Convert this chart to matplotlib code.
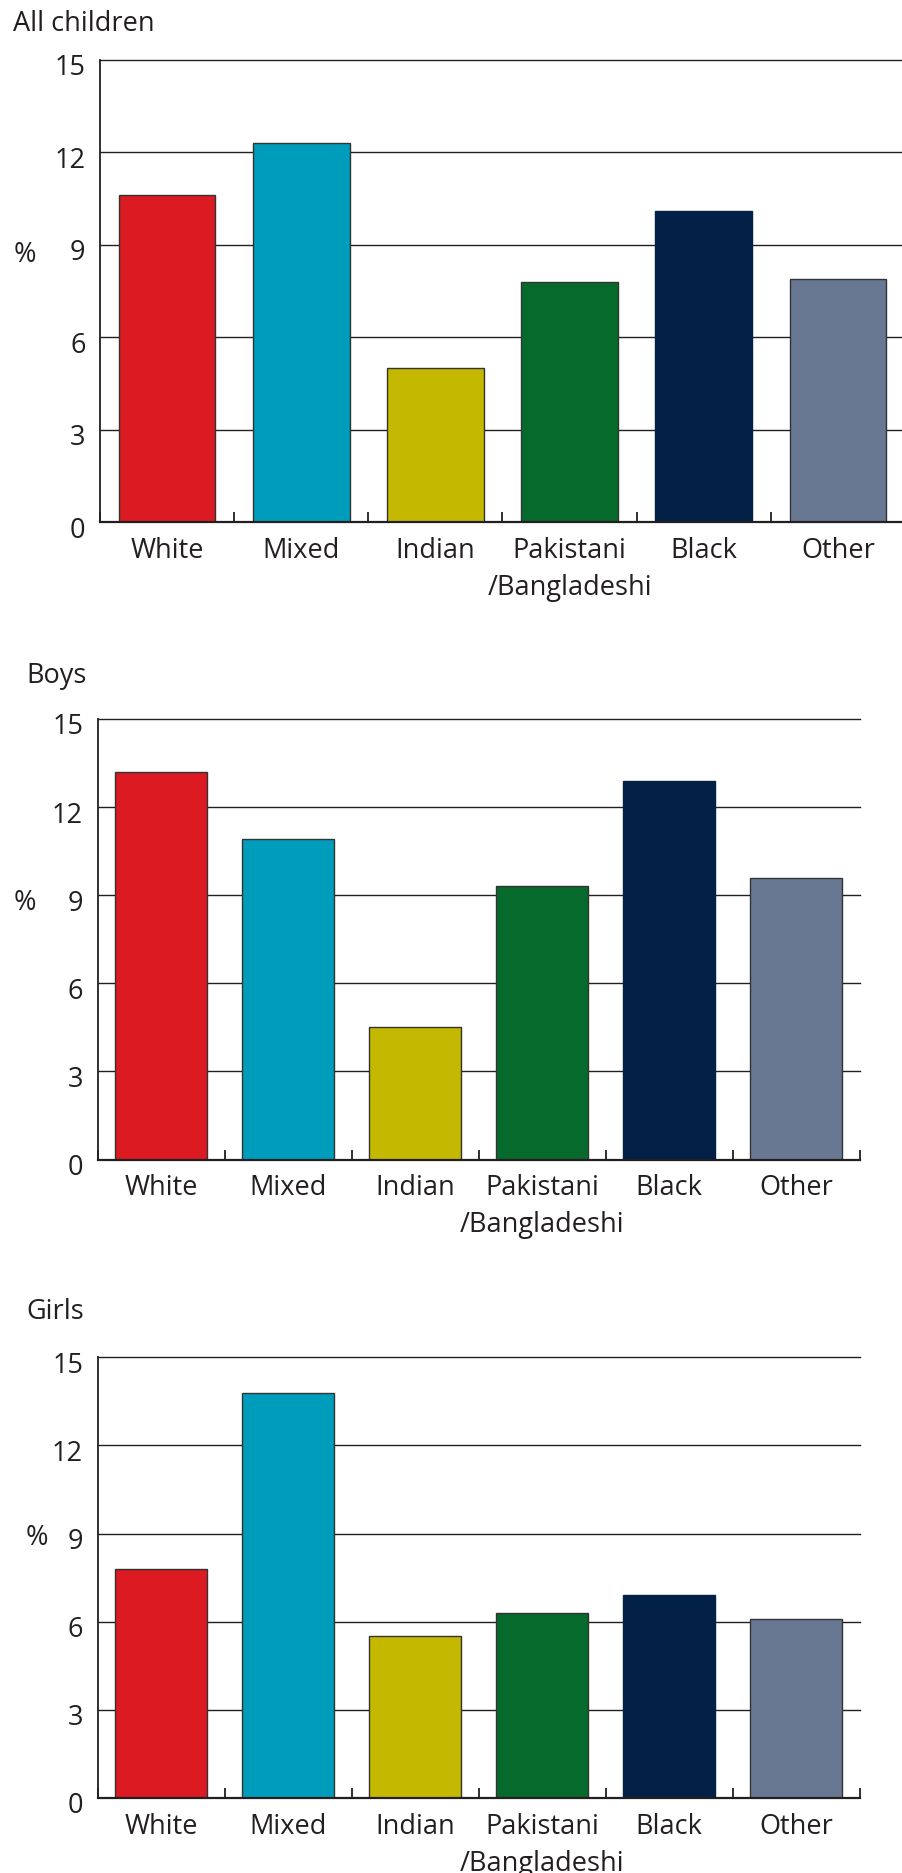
import matplotlib
matplotlib.use("Agg")
import matplotlib.pyplot as plt
from matplotlib.ticker import FixedLocator
from matplotlib.transforms import ScaledTranslation
import numpy as np

# Share of children (%) by ethnic group
categories = ["White", "Mixed", "Indian", "Pakistani\n/Bangladeshi", "Black", "Other"]
all_children = [10.6, 12.3, 5.0, 7.8, 10.1, 7.9]
boys = [13.2, 10.9, 4.5, 9.3, 12.9, 9.6]
girls = [7.8, 13.8, 5.5, 6.3, 6.9, 6.1]
panel_titles = ["All children", "Boys", "Girls"]
y_ticks = [0, 3, 6, 9, 12, 15]

bar_colors = ["#DC1A22", "#009CBB", "#C4B800", "#066A2C", "#032046", "#687893"]
TEXT = "#231F20"
EDGE = "#333333"

W, H, DPI = 903, 1874, 100
plt.rcParams["font.family"] = ["Open Sans", "DejaVu Sans"]
FS = 19.5

# panel geometry in pixels: axes box (left, top, right, bottom), title baseline, "%" centre
layout = [
    dict(box=(100, 60.7, 905, 523.3), title=(12.7, 30.7), pct=(24.7, 255.0)),
    dict(box=(97.7, 720.0, 859.7, 1160.5), title=(26.0, 682.7), pct=(24.7, 903.3)),
    dict(box=(97.7, 1358.3, 859.7, 1799.0), title=(26.0, 1319.3), pct=(37.2, 1537.7)),
]

fig = plt.figure(figsize=(W / DPI, H / DPI), dpi=DPI)
label_shift = ScaledTranslation(0, -4 / DPI, fig.dpi_scale_trans)

for values, title, lay in zip([all_children, boys, girls], panel_titles, layout):
    l, t, r, b = lay["box"]
    ax = fig.add_axes([l / W, 1 - b / H, (r - l) / W, (b - t) / H])
    x = np.arange(len(categories))
    edges = [EDGE if c != bar_colors[4] else c for c in bar_colors]
    ax.bar(x, values, width=0.72, color=bar_colors, edgecolor=edges,
           linewidth=1.0, zorder=3)
    ax.set_xlim(-0.5, len(categories) - 0.5)
    ax.set_ylim(0, 15)

    for v in y_ticks[1:]:
        ax.axhline(v, color=TEXT, lw=1.0, zorder=1, clip_on=False)

    for side in ("top", "right"):
        ax.spines[side].set_visible(False)
    ax.spines["left"].set_linewidth(1.3)
    ax.spines["bottom"].set_linewidth(1.6)
    ax.spines["left"].set_color(TEXT)
    ax.spines["bottom"].set_color(TEXT)
    ax.spines["bottom"].set_zorder(4)

    ax.set_yticks(y_ticks)
    ax.set_yticklabels([str(v) for v in y_ticks])
    ax.tick_params(axis="y", length=0, pad=10.5, labelsize=FS, labelcolor=TEXT)
    for lab in ax.get_yticklabels():
        lab.set_transform(lab.get_transform() + label_shift)

    ax.set_xticks(x)
    ax.set_xticklabels(categories, linespacing=1.42)
    ax.xaxis.set_minor_locator(FixedLocator(np.arange(-0.5, len(categories), 1.0)))
    ax.tick_params(axis="x", which="major", length=0, pad=10, labelsize=FS,
                   labelcolor=TEXT)
    ax.tick_params(axis="x", which="minor", direction="in", length=7, width=1.3,
                   color=TEXT)

    tx, ty = lay["title"]
    fig.text(tx / W, 1 - ty / H, title, fontsize=FS, color=TEXT,
             ha="left", va="baseline")
    px, py = lay["pct"]
    fig.text(px / W, 1 - py / H, "%", fontsize=FS, color=TEXT,
             ha="center", va="center")

fig.savefig("out.png", dpi=DPI)
